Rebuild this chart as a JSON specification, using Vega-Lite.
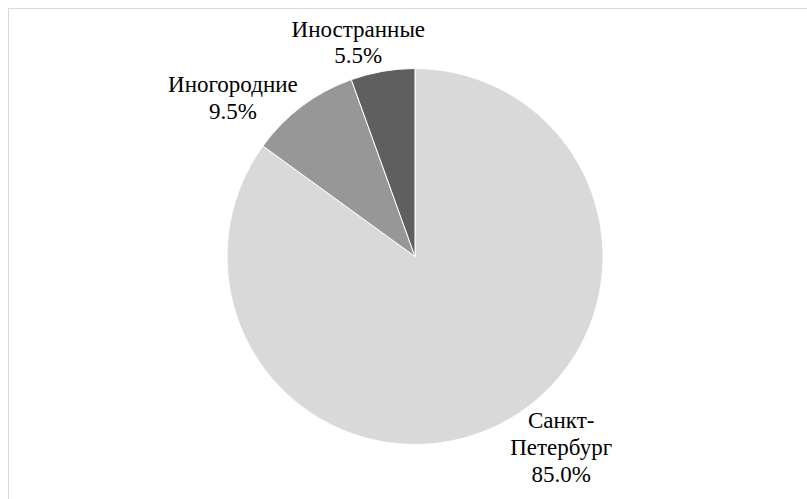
{
  "$schema": "https://vega.github.io/schema/vega-lite/v6.json",
  "width": 814,
  "height": 497,
  "autosize": {"type": "none"},
  "padding": {"left": 8, "top": 8, "right": -15, "bottom": -6},
  "background": "white",
  "view": {"stroke": "#d9d9d9", "strokeWidth": 1, "fill": "white"},
  "data": {
    "values": [
      {"group": "Санкт-Петербург", "caption": "Санкт-\nПетербург", "share": 85.0, "order": 1},
      {"group": "Иногородние", "caption": "Иногородние", "share": 9.5, "order": 2},
      {"group": "Иностранные", "caption": "Иностранные", "share": 5.5, "order": 3}
    ]
  },
  "transform": [
    {"calculate": "datum.caption + '\\n' + format(datum.share, '.1f') + '%'", "as": "label"}
  ],
  "encoding": {
    "theta": {"field": "share", "type": "quantitative", "stack": true},
    "order": {"field": "order", "type": "quantitative"}
  },
  "layer": [
    {
      "mark": {"type": "arc", "outerRadius": 188, "stroke": "white", "strokeWidth": 1},
      "encoding": {
        "color": {
          "field": "group",
          "type": "nominal",
          "scale": {
            "domain": ["Санкт-Петербург", "Иногородние", "Иностранные"],
            "range": ["#d9d9d9", "#979797", "#5f5f5f"]
          },
          "legend": null
        }
      }
    },
    {
      "mark": {"type": "text", "font": "Liberation Serif", "fontSize": 23, "lineHeight": 27, "color": "black", "radius": 225, "dx": 44, "dy": -29, "align": "center", "baseline": "alphabetic", "lineBreak": "\n"},
      "encoding": {
        "text": {"condition": {"test": "datum.group === 'Санкт-Петербург'", "field": "label"}, "value": ""}
      }
    },
    {
      "mark": {"type": "text", "font": "Liberation Serif", "fontSize": 23, "lineHeight": 27, "color": "black", "radius": 225, "dx": -47, "dy": 15, "align": "center", "baseline": "alphabetic", "lineBreak": "\n"},
      "encoding": {
        "text": {"condition": {"test": "datum.group === 'Иногородние'", "field": "label"}, "value": ""}
      }
    },
    {
      "mark": {"type": "text", "font": "Liberation Serif", "fontSize": 23, "lineHeight": 26, "color": "black", "radius": 225, "dx": -18, "dy": 2, "align": "center", "baseline": "alphabetic", "lineBreak": "\n"},
      "encoding": {
        "text": {"condition": {"test": "datum.group === 'Иностранные'", "field": "label"}, "value": ""}
      }
    }
  ]
}
